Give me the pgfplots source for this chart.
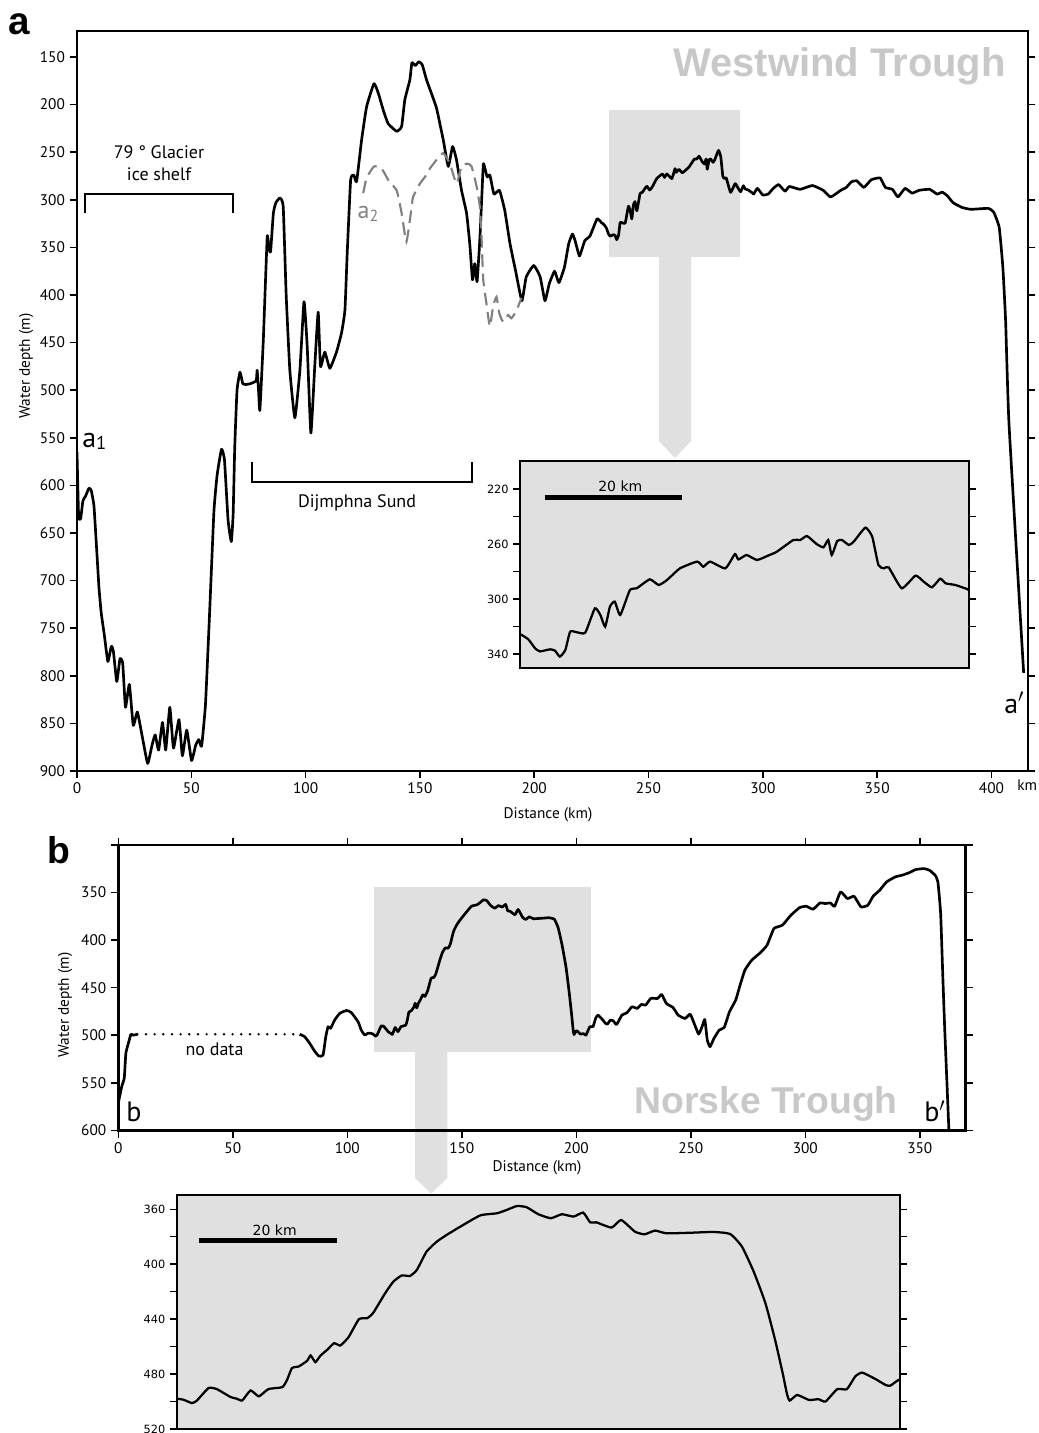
\documentclass[border=0pt]{standalone}
\usepackage{fontspec}
\setmainfont{PT Sans}
\newfontfamily\arialf{Liberation Sans}
\newfontfamily\dejavu{DejaVu Sans}
\usepackage{pgfplots}
\usepackage{pgfplotstable}
\pgfplotsset{compat=1.18}
\definecolor{boxgray}{RGB}{224,224,224}
\definecolor{titlegray}{RGB}{200,200,200}
\definecolor{dashgray}{RGB}{128,128,128}

\pgfplotstableread{
km depth
0 565
0.7 632
1.6 635
2.6 616
3.8 611
5.2 603
6.2 605
7.4 621
8.4 659
9.6 707
10.6 734
12 758
13.5 785
15 769
15.9 774
17.4 806
18.8 782
20 787
21.2 833
22.9 809
24.6 852
26.4 838
28.4 862
30.9 892
32.8 873
34.2 862
35.7 878
37.4 849
38.8 878
40.6 833
42.2 876
44.6 846
46.1 884
48 857
50.1 889
51.9 873
53.3 867
54.5 874
56.2 830
58 734
59.9 627
61.3 589
63.2 562
64.5 573
66.1 637
67.5 659
68.3 630
69 560
70 500
71.3 481
72.5 493
74 494
76 493
78.4 490
78.8 479
79.4 500
80 521
81.5 447
83.2 339
84 352
84.7 354
85.9 314
87 303
88.8 298
90.2 307
91.5 400
93.1 479
95.3 529
97.5 479
99.3 407
100.7 454
102.3 545
104 475
105.5 418
106.5 475
108.4 460
110.6 477
113.5 460
115.7 440
117.2 416
118.2 356
119.7 279
121.1 274
122.3 281
124.5 237
126.7 202
129.9 178
131.8 188
134 206
136.1 220
139.8 228
142 223
143.4 195
145.6 174
146.5 156
148 159
149.5 155
151 158
152.9 174
155 188
157.3 204
160.2 237
162.4 265
164.3 244
166 258
168.2 290
170.4 314
171.8 346
173 384
174 367
175 386
176.2 342
177.2 290
177.8 262
179.4 276
180.6 274
182.4 294
184.8 290
187.1 311
189.4 346
191.8 374
194.6 406
196.5 381
199.8 369
202.6 381
204.7 406
206.6 388
208.9 375
210.8 387
213.2 371
215.1 346
216.7 336
217.9 343
219.8 359
222.1 343
224.4 338
227.5 320
229.4 324
230.3 325.5
231.5 329.3
232.5 335.9
233.2 338.1
234.7 336.6
235.4 337.6
236.1 341.9
236.9 337.1
237.6 323.8
238.6 324.2
239.8 324.5
241.2 306.8
242 311.6
242.7 320.1
243.4 305.5
244.1 301.9
244.9 311.6
246.3 293.5
247.3 292.2
249.2 285.7
250.5 289.8
251.7 286.2
253.6 277.7
256.1 272.8
257 276.5
258 272.8
260.2 277.7
261.6 267.3
262.1 271.2
263.3 268
264.8 271.6
266.3 268.7
267.7 265.6
270.1 257.1
271.1 257.1
272.1 254.2
273.5 260
274.5 262.4
275.2 257.1
275.7 268
276.5 257.8
277.2 257.1
278.2 260.7
278.9 258.3
280.6 248.1
281.6 254.7
282.5 275.3
283.3 277.7
284 277
285.9 292.2
287.9 283
289.1 287.4
290.3 291.5
291.5 285.2
292.3 288.6
293.7 289.8
295.4 292.7
296 294
297.6 288
300 295
302.3 294
304.6 288
306.9 284
309.7 291
311.6 286
316.3 289
321.7 285
326.4 290
329.5 297
331.8 294
334.1 290
336.5 287
338.8 281
341.1 280
344.2 287
347.4 279
351.3 277
353.6 287
356.7 289
359.1 297
362.2 288
365.3 293
368.4 290
373 289
376.2 294
378.5 292
380.8 296
383.2 303
387.1 308
391 310
398.7 309
401 313
403.4 329
405 371
406.2 427
407.7 536
414.1 797
}\profA

\pgfplotstableread{
km depth
125.2 293
126.7 277
129.9 265
133.2 267
136.6 281
139.8 290
142 314
144.1 344
146.3 309
147 297
150 283
152.2 276
154.4 267
157.3 258
160.2 251
163.1 262
166 283
168.2 265
170.7 262
172.6 265
174.8 286
176.2 307
177 342
177.7 384
179.1 409
180.6 433
182 412
183.5 402
184.7 419
186.4 428
188.6 421
190 424.5
192.3 416
194.4 403
}\profAtwo

\pgfplotstableread{
km depth
0 570
0.3 568
1.5 554
2.6 545
3.3 519
4.4 508.5
5.5 499
6.5 500
8.3 499
nan nan
79.2 499
81.4 501.6
83.6 508.6
85.8 517
87.6 521.9
89.4 521
90.6 501.6
91.6 491
92.7 492.8
94.5 484
96.7 477
99.6 474
101.7 476
104.7 485.8
106.1 494.6
107.6 499.8
108.9 498
110.2 497.9
111.2 498.7
112.4 501.1
113.1 499.4
114.8 490.2
116 490.9
118 496.7
118.9 497.9
119.7 499.2
120.9 491.9
122.1 496.2
123.5 490.9
125.5 489.5
126.2 484.1
126.9 475.6
127.9 474.4
129.1 470.3
129.6 466.4
130.3 471.3
131 466.7
132 462.3
133 457.5
133.9 459.2
135.1 453.1
136.6 440
137.8 439.3
138.7 435.2
140.4 421.1
141.6 412.6
142.8 408.2
144 408.5
145 404.1
146.4 390.8
147.9 383.5
149.3 378.7
151.3 372.6
154.2 364.4
156.6 362.9
158 360.5
159.5 357.6
160.9 358.5
162.6 363.6
164.4 366.5
166 363.6
167.7 365.3
169.1 362.4
170.1 369.5
171 369.5
173.2 373.3
174.6 367.8
176.6 376.3
178 378.2
179.5 375.5
181.2 377.5
185 377
188 376.5
190.4 378
192.1 387.2
193.8 405.4
195.5 428.4
196.9 455.1
198 479.4
198.6 494
199 499.3
200.1 495.2
201.8 498.8
203.2 498.3
204.2 500
205.9 491
207.3 491
208.5 481.8
209.5 478.9
211.4 483.5
212.9 487.9
213.6 488.4
214.8 484.3
216.1 484.8
217.6 488.7
219.9 478.9
222.1 476.4
224.3 470.1
226.6 471.8
228.4 467.6
230.3 468.3
232.5 461.3
235.5 461.3
237.3 457.1
239.3 466.6
242.2 470.8
244.5 478.9
247.5 482.4
249.7 477.8
251.2 485.9
253.4 498.8
254.9 491.1
256.1 483.4
257.2 505.1
258.4 512.1
260.1 503.4
262.4 494.6
264.6 491.8
266.9 475.3
269.6 463.1
271.3 449.1
273.6 431.6
276.6 421.1
280.3 413.4
283.3 405.3
286.3 387.8
290 384.3
293.7 373.8
297.5 365.8
300.4 364.4
303.4 367.5
306.4 360.9
308.7 361.6
310.9 360.9
312.8 364.4
315.4 349.3
318.4 356.3
321.3 353.9
324.3 365.1
327.3 363.3
329.6 353.9
332.5 347.5
335.5 338.8
339.3 333.5
342.2 331.8
345.2 329.3
348.2 325.8
351.9 324.8
354.2 326.5
356.7 331.8
357.9 338.8
359.1 372
360.1 442
360.9 494.6
362.7 600
362.8 610
}\profB

\pgfplotsset{
  prof/.style={scale only axis, y dir=reverse, tick align=outside,
    axis line style={line width=1.8pt}, every tick/.style={black,line width=1.1pt},
    major tick length=5.5pt, axis on top, clip=true,
    /pgf/number format/assume math mode=true,
    tick label style={font=\fontsize{11.5}{13}\selectfont}},
  inset/.style={scale only axis, y dir=reverse, tick align=outside,
    axis line style={line width=1.8pt}, every tick/.style={black,line width=1.1pt},
    major tick length=5pt, axis on top, clip=true,
    axis background/.style={fill=boxgray},
    xtick=\empty, ytick pos=both, yticklabel pos=left,
    tick label style={font=\dejavu\fontsize{8.5}{10}\selectfont}},
}

\begin{document}
\begin{tikzpicture}
\useasboundingbox (0,0) rectangle (778.5pt,-1074.75pt);
% gray highlight boxes and arrows (annotations)
\begin{scope}[x=0.75pt,y=-0.75pt]
\fill[boxgray] (609,110) rectangle (740,257);
\fill[boxgray] (659,256) -- (691,256) -- (691,441) -- (675,458) -- (659,441) -- cycle;
\fill[boxgray] (374,886.7) rectangle (590.7,1052.3);
\fill[boxgray] (415,1052) -- (447.3,1052) -- (447.3,1178) -- (431.2,1193.5) -- (415,1178) -- cycle;
\end{scope}

% ---------------- panel a ----------------
\begin{axis}[prof, at={(57.75pt,-578.25pt)}, anchor=south west,
  width=713.25pt, height=555pt,
  xmin=0, xmax=416, ymin=122.7, ymax=900,
  xtick={0,50,...,400}, ytick={150,200,...,900},
  xtick pos=bottom, ytick pos=both, yticklabel pos=left]
\addplot[black, line width=2pt, line join=round, smooth, tension=0.25] table[x=km,y=depth]{\profA};
\addplot[dashgray, line width=1.6pt, smooth, tension=0.3, dash pattern=on 9.5pt off 5pt] table[x=km,y=depth]{\profAtwo};
\end{axis}

% ---------------- panel b ----------------
\begin{axis}[prof, at={(88.725pt,-847.725pt)}, anchor=south west,
  width=635.475pt, height=213.975pt,
  xmin=0, xmax=370, ymin=300, ymax=600,
  xtick={0,50,...,350}, ytick={300,350,...,600},
  yticklabels={,350,400,450,500,550,600},
  xtick pos=both, xticklabel pos=bottom, ytick pos=both, yticklabel pos=left,
  unbounded coords=jump]
\addplot[black, line width=2pt, line join=round, smooth, tension=0.25] table[x=km,y=depth]{\profB};
\addplot[black, line width=2pt, line cap=round, dash pattern=on 0pt off 6.5pt] coordinates {(8.3,499) (79.2,499)};
\end{axis}

% ---------------- inset a ----------------
\begin{axis}[inset, at={(390pt,-501pt)}, anchor=south west,
  width=336.75pt, height=155.25pt,
  xmin=230.3, xmax=295.7, ymin=199.6, ymax=350.2,
  ytick={220,240,...,340}, yticklabels={220,,260,,300,,340}]
\addplot[black, line width=1.7pt, smooth, tension=0.3] table[x=km,y=depth]{\profA};
\draw[line width=3.6pt] (axis cs:233.9,226) -- (axis cs:253.9,226);
\node[font=\dejavu\fontsize{10.5}{12}\selectfont, anchor=base] at (axis cs:244.9,222) {20 km};
\end{axis}

% ---------------- inset b ----------------
\begin{axis}[inset, at={(132.525pt,-1071.75pt)}, anchor=south west,
  width=542.475pt, height=175.5pt,
  xmin=110.2, xmax=215, ymin=349.6, ymax=520,
  ytick={360,380,...,520}, yticklabels={360,,400,,440,,480,,520},
  unbounded coords=jump]
\addplot[black, line width=1.7pt, smooth, tension=0.3] table[x=km,y=depth]{\profB};
\draw[line width=3.6pt] (axis cs:113.4,383) -- (axis cs:133.4,383);
\node[font=\dejavu\fontsize{10.5}{12}\selectfont, anchor=base] at (axis cs:124.4,379) {20 km};
\end{axis}

% ---------------- text and brackets ----------------
\begin{scope}[x=0.75pt,y=-0.75pt, every node/.style={inner sep=0pt}]
\node[anchor=base west, font=\arialf\bfseries\fontsize{29}{29}\selectfont] at (8,35) {a};
\node[anchor=base west, font=\arialf\bfseries\fontsize{28}{28}\selectfont] at (47,863) {b};
\node[anchor=base east, text=titlegray, font=\arialf\bfseries\fontsize{30}{30}\selectfont] at (1006,76.5) {Westwind Trough};
\node[anchor=base east, text=titlegray, font=\arialf\bfseries\fontsize{28}{28}\selectfont] at (898,1113) {Norske Trough};
% axis labels
\node[anchor=base, font=\fontsize{11.5}{13}\selectfont] at (548,818) {Distance (km)};
\node[anchor=base, font=\fontsize{11.5}{13}\selectfont] at (537,1171) {Distance (km)};
\node[anchor=base west, font=\fontsize{11.5}{13}\selectfont] at (1017,790) {km};
\node[rotate=90, font=\fontsize{11.5}{13}\selectfont] at (26,366) {Water depth (m)};
\node[rotate=90, font=\fontsize{11.5}{13}\selectfont] at (65,1005) {Water depth (m)};
% profile end labels
\node[anchor=base west, font=\fontsize{21}{21}\selectfont] at (82,447) {a\raisebox{-0.2ex}{\fontsize{14}{14}\selectfont 1}};
\node[anchor=base west, font=\fontsize{21}{21}\selectfont] at (1004,713) {a$'$};
\node[anchor=base west, font=\fontsize{21}{21}\selectfont] at (126,1121.5) {b};
\node[anchor=base west, font=\fontsize{21}{21}\selectfont] at (924,1121.5) {b$'$};
\node[anchor=center, text=dashgray, font=\fontsize{18}{18}\selectfont] at (368,214) {a\raisebox{-0.2ex}{\fontsize{12}{12}\selectfont 2}};
% annotations
\node[anchor=base, font=\fontsize{13.5}{15}\selectfont] at (159,159) {79 ° Glacier};
\node[anchor=base, font=\fontsize{13.5}{15}\selectfont] at (159,181) {ice shelf};
\draw[line width=1.5pt] (85,213.5) -- (85,194) -- (232.7,194) -- (232.7,213.5);
\node[anchor=base, font=\fontsize{13.5}{15}\selectfont] at (357,507) {Dijmphna Sund};
\draw[line width=1.5pt] (252.3,461.7) -- (252.3,481.7) -- (471.7,481.7) -- (471.7,461.7);
\node[anchor=base, font=\fontsize{13.5}{15}\selectfont] at (214.5,1055) {no data};
\end{scope}
\end{tikzpicture}
\end{document}
